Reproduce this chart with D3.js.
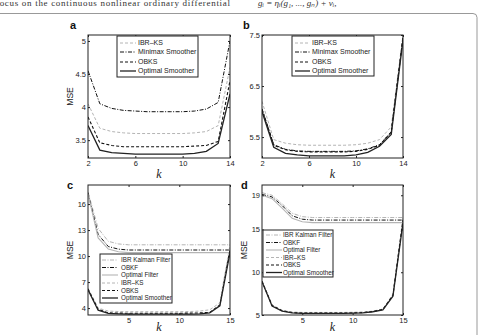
<!DOCTYPE html>
<html>
<head>
<meta charset="utf-8">
<script src="https://cdn.jsdelivr.net/npm/d3@7"></script>
<style>
  body { margin: 0; background: #fff; }
  svg { display: block; }
</style>
</head>
<body>
<div id="chart"></div>
<script>
// k values per panel
const kAB = [2, 3, 4, 5, 6, 7, 8, 9, 10, 11, 12, 13, 14];
const kCD = [1, 2, 3, 4, 5, 6, 7, 8, 9, 10, 11, 12, 13, 14, 15];

// panel a
const aIbrKs    = [4.05, 3.68, 3.63, 3.61, 3.60, 3.60, 3.60, 3.60, 3.60, 3.61, 3.63, 3.72, 4.60];
const aMinimax  = [4.55, 4.05, 3.98, 3.95, 3.94, 3.93, 3.93, 3.93, 3.93, 3.94, 3.97, 4.07, 5.00];
const aObks     = [3.85, 3.46, 3.42, 3.40, 3.40, 3.40, 3.40, 3.40, 3.40, 3.41, 3.42, 3.48, 4.40];
const aOptimal  = [3.72, 3.35, 3.31, 3.30, 3.29, 3.29, 3.29, 3.29, 3.29, 3.30, 3.33, 3.45, 4.20];

// panel b
const bIbrKs    = [6.20, 5.45, 5.38, 5.35, 5.34, 5.34, 5.34, 5.34, 5.35, 5.38, 5.45, 5.70, 7.50];
const bMinimax  = [6.05, 5.35, 5.26, 5.23, 5.22, 5.22, 5.22, 5.22, 5.23, 5.27, 5.35, 5.60, 7.45];
const bObks     = [6.05, 5.34, 5.25, 5.22, 5.21, 5.21, 5.21, 5.21, 5.22, 5.26, 5.34, 5.60, 7.45];
const bOptimal  = [6.00, 5.30, 5.18, 5.15, 5.13, 5.13, 5.13, 5.13, 5.15, 5.20, 5.32, 5.55, 7.40];

// panel c
const cIbrKf    = [17.4, 13.2, 11.7, 11.4, 11.3, 11.3, 11.3, 11.3, 11.3, 11.3, 11.3, 11.3, 11.3, 11.3, 11.3];
const cObkf     = [17.3, 12.5, 11.1, 10.8, 10.7, 10.7, 10.7, 10.7, 10.7, 10.7, 10.7, 10.7, 10.7, 10.7, 10.7];
const cOptFilt  = [17.2, 12.1, 10.8, 10.5, 10.4, 10.4, 10.4, 10.4, 10.4, 10.4, 10.4, 10.4, 10.4, 10.4, 10.4];
const cIbrKs    = [6.30, 4.00, 3.65, 3.60, 3.58, 3.58, 3.58, 3.58, 3.58, 3.58, 3.60, 3.65, 3.80, 4.60, 11.3];
const cObks     = [6.20, 3.85, 3.45, 3.42, 3.40, 3.40, 3.40, 3.40, 3.40, 3.40, 3.42, 3.44, 3.50, 4.35, 10.7];
const cOptSmth  = [6.10, 3.75, 3.38, 3.33, 3.30, 3.30, 3.30, 3.30, 3.30, 3.30, 3.31, 3.32, 3.45, 4.25, 10.4];

// panel d
const dIbrKf    = [19.3, 19.0, 18.0, 16.9, 16.5, 16.4, 16.4, 16.4, 16.4, 16.4, 16.4, 16.4, 16.4, 16.4, 16.4];
const dObkf     = [19.1, 18.8, 17.8, 16.6, 16.2, 16.1, 16.1, 16.1, 16.1, 16.1, 16.1, 16.1, 16.1, 16.1, 16.1];
const dOptFilt  = [19.0, 18.6, 17.5, 16.3, 15.9, 15.8, 15.8, 15.8, 15.8, 15.8, 15.8, 15.8, 15.8, 15.8, 15.8];
const dIbrKs    = [9.00, 6.20, 5.55, 5.35, 5.30, 5.30, 5.30, 5.30, 5.30, 5.32, 5.36, 5.45, 5.70, 7.40, 16.4];
const dObks     = [8.95, 6.10, 5.50, 5.28, 5.22, 5.22, 5.22, 5.22, 5.22, 5.24, 5.28, 5.40, 5.65, 7.30, 16.1];
const dOptSmth  = [8.90, 6.05, 5.45, 5.25, 5.20, 5.20, 5.20, 5.20, 5.20, 5.22, 5.26, 5.38, 5.60, 7.20, 15.8];

// tick labels
const aXTicks = [2, 6, 10, 14], aYTicks = [3.5, 4, 4.5, 5];
const bXTicks = [2, 6, 10, 14], bYTicks = [5.5, 6.5, 7.5];
const cXTicks = [5, 10, 15],    cYTicks = [4, 7, 10, 13, 16];
const dXTicks = [5, 10, 15],    dYTicks = [5, 10, 15, 19];

// line styles
const sty = {
  ibrKs:   { name: 'IBR\u2013KS',         stroke: '#b4b4b4', dash: '3,2',     w: 1 },
  minimax: { name: 'Minimax Smoother',    stroke: '#111',    dash: '4,1.5,1,1.5', w: 1 },
  obks:    { name: 'OBKS',                stroke: '#111',    dash: '3,2',     w: 1.1 },
  optSmth: { name: 'Optimal Smoother',    stroke: '#222',    dash: null,      w: 1.3 },
  ibrKf:   { name: 'IBR Kalman Filter',   stroke: '#b4b4b4', dash: '4,1.5,1,1.5', w: 1 },
  obkf:    { name: 'OBKF',                stroke: '#111',    dash: '4,1.5,1,1.5', w: 1 },
  optFilt: { name: 'Optimal Filter',      stroke: '#b4b4b4', dash: null,      w: 1.1 }
};

const W = 479, H = 335;
const svg = d3.select('#chart').append('svg').attr('width', W).attr('height', H);

// page text and frame
svg.append('text').attr('x', -4).attr('y', 6)
  .attr('font-family', 'Liberation Serif, serif').attr('font-size', 9).attr('fill', '#333')
  .attr('textLength', 234)
  .text('focus on the continuous nonlinear ordinary differential');
svg.append('text').attr('x', 258).attr('y', 6)
  .attr('font-family', 'Liberation Serif, serif').attr('font-size', 9).attr('fill', '#333')
  .attr('font-style', 'italic')
  .text('g\u1d62 = \u03b7\u1d62(g\u2081, ..., g\u2099) + v\u1d62,');
svg.append('rect').attr('x', -10).attr('y', 13.5).attr('width', 487).attr('height', 340)
  .attr('rx', 4).attr('fill', 'none').attr('stroke', '#999').attr('stroke-width', 1);

const panels = [
  { label: 'a', box: [88, 230, 35, 158], xd: [2, 14], yd: [3.23, 5.09], k: kAB,
    xt: aXTicks, yt: aYTicks, mse: true, labelPos: [70, 29], kY: 178,
    series: [['ibrKs', aIbrKs], ['minimax', aMinimax], ['obks', aObks], ['optSmth', aOptimal]],
    legend: { x: 117, y: 36, w: 81, h: 41, lineX: [120, 136], textX: 138, rowY: [43, 52, 62, 71], fs: 7 } },
  { label: 'b', box: [262, 403, 35, 158], xd: [2, 14], yd: [5.09, 7.5], k: kAB,
    xt: bXTicks, yt: bYTicks, mse: false, labelPos: [243, 29], kY: 178,
    series: [['ibrKs', bIbrKs], ['minimax', bMinimax], ['obks', bObks], ['optSmth', bOptimal]],
    legend: { x: 292, y: 36, w: 82, h: 40, lineX: [295, 310], textX: 312, rowY: [43, 52, 62, 71], fs: 7 } },
  { label: 'c', box: [88, 230, 185, 315], xd: [1, 15], yd: [3.2, 18.2], k: kCD,
    xt: cXTicks, yt: cYTicks, mse: true, labelPos: [67, 189], kY: 331,
    series: [['ibrKf', cIbrKf], ['obkf', cObkf], ['optFilt', cOptFilt],
             ['ibrKs', cIbrKs], ['obks', cObks], ['optSmth', cOptSmth]],
    legend: { x: 100, y: 254, w: 72, h: 49, lineX: [102, 118], textX: 121, rowY: [260, 267.5, 275, 283, 290.5, 298], fs: 6.3 } },
  { label: 'd', box: [262, 403, 185, 315], xd: [1, 15], yd: [5, 20.2], k: kCD,
    xt: dXTicks, yt: dYTicks, mse: true, labelPos: [241, 189], kY: 331,
    series: [['ibrKf', dIbrKf], ['obkf', dObkf], ['optFilt', dOptFilt],
             ['ibrKs', dIbrKs], ['obks', dObks], ['optSmth', dOptSmth]],
    legend: { x: 263, y: 230, w: 70, h: 47, lineX: [266, 282], textX: 283, rowY: [235, 242.5, 250, 257.5, 265, 272.5], fs: 6.3 } }
];

panels.forEach(function(p) {
  const [x0, x1, y0, y1] = p.box;
  const x = d3.scaleLinear().domain(p.xd).range([x0, x1]);
  const y = d3.scaleLinear().domain(p.yd).range([y1, y0]);
  const g = svg.append('g');

  // clip
  const clipId = 'clip-' + p.label;
  svg.append('clipPath').attr('id', clipId)
    .append('rect').attr('x', x0).attr('y', y0).attr('width', x1 - x0).attr('height', y1 - y0);

  // lines
  const line = d3.line().x(function(d) { return x(d[0]); }).y(function(d) { return y(d[1]); });
  g.append('g').attr('clip-path', 'url(#' + clipId + ')')
    .selectAll('path').data(p.series).enter().append('path')
      .attr('d', function(s) { return line(p.k.map(function(kk, i) { return [kk, s[1][i]]; })); })
      .attr('fill', 'none')
      .attr('stroke', function(s) { return sty[s[0]].stroke; })
      .attr('stroke-width', function(s) { return sty[s[0]].w; })
      .attr('stroke-dasharray', function(s) { return sty[s[0]].dash; });

  // axes with inward ticks
  const fmt = function(d) { return String(d); };
  const axFont = function(sel) {
    sel.select('.domain').remove();
    sel.selectAll('line').attr('stroke', '#222');
    sel.selectAll('text').attr('font-family', 'Liberation Sans, Arial, sans-serif')
      .attr('font-size', 7.5).attr('fill', '#222');
  };
  g.append('g').attr('transform', 'translate(0,' + y1 + ')')
    .call(d3.axisBottom(x).tickValues(p.xt).tickFormat(fmt).tickSize(-2).tickPadding(3)).call(axFont);
  g.append('g').attr('transform', 'translate(0,' + y0 + ')')
    .call(d3.axisTop(x).tickValues(p.xt).tickFormat('').tickSize(-2)).call(axFont);
  g.append('g').attr('transform', 'translate(' + x0 + ',0)')
    .call(d3.axisLeft(y).tickValues(p.yt).tickFormat(fmt).tickSize(-2).tickPadding(2)).call(axFont);
  g.append('g').attr('transform', 'translate(' + x1 + ',0)')
    .call(d3.axisRight(y).tickValues(p.yt).tickFormat('').tickSize(-2)).call(axFont);

  g.append('rect').attr('x', x0).attr('y', y0).attr('width', x1 - x0).attr('height', y1 - y0)
    .attr('fill', 'none').attr('stroke', '#222').attr('stroke-width', 1);

  // labels
  g.append('text').attr('x', p.labelPos[0]).attr('y', p.labelPos[1])
    .attr('font-family', 'Liberation Sans, Arial, sans-serif').attr('font-weight', 'bold')
    .attr('font-size', 11).attr('fill', '#111').text(p.label);
  g.append('text').attr('x', (x0 + x1) / 2).attr('y', p.kY).attr('text-anchor', 'middle')
    .attr('font-family', 'Liberation Serif, serif').attr('font-style', 'italic')
    .attr('font-size', 12).attr('fill', '#222').text('k');
  if (p.mse) {
    const my = (y0 + y1) / 2;
    g.append('text').attr('transform', 'translate(' + (x0 - 15) + ',' + my + ') rotate(-90)')
      .attr('text-anchor', 'middle')
      .attr('font-family', 'Liberation Sans, Arial, sans-serif').attr('font-size', 8.5)
      .attr('fill', '#222').text('MSE');
  }

  // legend
  const L = p.legend;
  const lg = g.append('g');
  lg.append('rect').attr('x', L.x).attr('y', L.y).attr('width', L.w).attr('height', L.h)
    .attr('fill', '#fff').attr('stroke', '#222').attr('stroke-width', 1);
  p.series.forEach(function(s, i) {
    const st = sty[s[0]];
    lg.append('line').attr('x1', L.lineX[0]).attr('x2', L.lineX[1])
      .attr('y1', L.rowY[i]).attr('y2', L.rowY[i])
      .attr('stroke', st.stroke).attr('stroke-width', st.w).attr('stroke-dasharray', st.dash);
    lg.append('text').attr('x', L.textX).attr('y', L.rowY[i]).attr('dy', '0.35em')
      .attr('font-family', 'Liberation Sans, Arial, sans-serif').attr('font-size', L.fs)
      .attr('fill', '#222').text(st.name);
  });
});
</script>
</body>
</html>
